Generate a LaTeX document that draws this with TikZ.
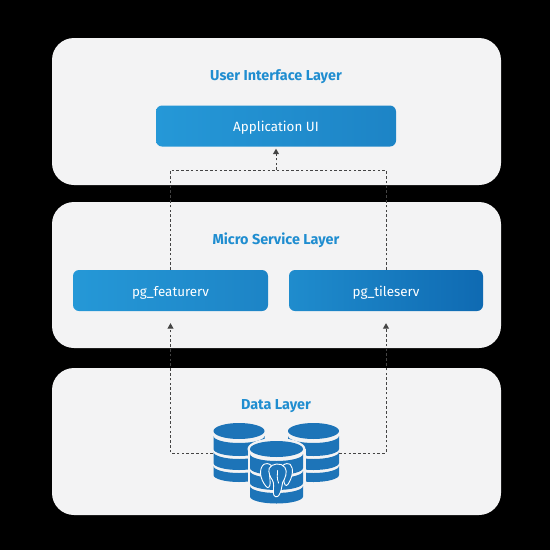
\documentclass[tikz,border=0pt]{standalone}
\usepackage{fontspec}
\setmainfont{Fira Sans}
\definecolor{panelc}{HTML}{F3F3F4}
\definecolor{dbblue}{HTML}{1D74B8}
\definecolor{titleblue}{HTML}{1F8DD0}
\definecolor{linkc}{HTML}{444444}
\definecolor{boxa}{HTML}{2598D7}
\definecolor{boxb}{HTML}{1D84C6}
\definecolor{boxc}{HTML}{1F8CCD}
\definecolor{boxd}{HTML}{0F6AB2}
\usetikzlibrary{arrows.meta}
\tikzset{
  panel/.style={fill=panelc,rounded corners=22pt},
  svcbox/.style={rounded corners=6pt,minimum height=41pt,text=white,font=\fontsize{13.4}{15}\selectfont,inner sep=0pt,left color=boxa,right color=boxb,text height=12.5pt,text depth=1pt},
  titletext/.style={text=titleblue,font=\fontsize{14.4}{16}\selectfont\bfseries,inner sep=0pt},
  link/.style={draw=linkc,line width=1pt,dash pattern=on 2.6pt off 2.2pt},
  arrowlink/.style={link,-{Triangle[length=5.5pt,width=6pt,fill=linkc]}},
}
\newcommand{\dbcyl}[5]{% cx, top centre y, rx, ry, bands
  \begin{scope}[shift={(#1,#2)}]
    \fill[dbblue] (0,0) ellipse [x radius=#3,y radius=#4];
    \foreach \a/\b in {#5}{
      \fill[dbblue] (-#3,\a) arc[start angle=180,end angle=360,x radius=#3,y radius=-7]
        -- (#3,\b) arc[start angle=360,end angle=180,x radius=#3,y radius=-7] -- cycle;
    }
  \end{scope}
}
\begin{document}
\begin{tikzpicture}[x=1pt,y=-1pt]
\useasboundingbox (0,0) rectangle (550,550);
\fill[black] (0,0) rectangle (550,550);
\fill[panel] (52,38) rectangle (501,185);
\fill[panel] (52,202) rectangle (501,348);
\fill[panel] (52,368) rectangle (501,515);
\node[titletext] (uit) at (276,76.5) {User Interface Layer};
\node[titletext] (mst) at (276,240.5) {Micro Service Layer};
\node[titletext] (dat) at (276,406.5) {Data Layer};
\node[svcbox,minimum width=240pt] (app) at (276,126) {Application UI};
\node[svcbox,minimum width=195pt] (feat) at (170.5,290.5) {pg\_featurerv};
\node[svcbox,minimum width=194pt,left color=boxc,right color=boxd] (tile) at (386,290.5) {pg\_tileserv};
% databases
\dbcyl{239}{431}{25.5}{8}{5/18,21/32,35/44}
\dbcyl{313.5}{431}{25.5}{8}{5/18,21/32,35/44}
\fill[panelc] (276.5,449) ellipse [x radius=29,y radius=11];
\fill[panelc] (247.5,449) rectangle (305.5,508);
\dbcyl{276.5}{449}{26.5}{8}{5/19,22/34,37/47.5}
\coordinate (dbl) at (213,453);
\coordinate (dbr) at (339,453);
\coordinate (hub) at (276,170);
% elephant
\begin{scope}[shift={(276.5,480)},scale=1.05]
 \fill[dbblue,draw=white,line width=0.9pt,line join=round]
  (-12,-15) .. controls (-17,-11) and (-16,-1) .. (-10,6)
  .. controls (-8,9) and (-6,6) .. (-6,3)
  .. controls (-6,-2) and (-8,-8) .. (-5,-14)
  .. controls (-8,-16) and (-10,-16) .. (-12,-15) -- cycle;
 \fill[dbblue,draw=white,line width=0.9pt,line join=round]
  (13,-15) .. controls (17,-11) and (15,-2) .. (11,4)
  .. controls (9,7) and (7,4) .. (7,0)
  .. controls (8,-4) and (9,-9) .. (6,-14)
  .. controls (9,-16) and (11,-16) .. (13,-15) -- cycle;
 \fill[dbblue,draw=white,line width=0.9pt,line join=round]
  (-7,-11) .. controls (-5,-16) and (5,-17) .. (8,-12)
  .. controls (11,-8) and (8,-1) .. (6,2)
  .. controls (5,5) and (5,11) .. (2,15)
  .. controls (0,17) and (-3,16) .. (-3,12)
  .. controls (-3,7) and (-2,3) .. (-4,0)
  .. controls (-6,-3) and (-8,-7) .. (-7,-11) -- cycle;
 \draw[white,line width=0.8pt,line cap=round] (1,-9) .. controls (1,-5) and (0,-2) .. (2,3);
\end{scope}
% connectors
\draw[arrowlink] (dbl) -| ([yshift=-12pt]feat.south);
\draw[arrowlink] (dbr) -| ([yshift=-12pt]tile.south);
\draw[link] (feat.north) |- (hub);
\draw[link] (tile.north) |- (hub);
\draw[arrowlink] (hub) -- ([yshift=-2pt]app.south);
\end{tikzpicture}
\end{document}
